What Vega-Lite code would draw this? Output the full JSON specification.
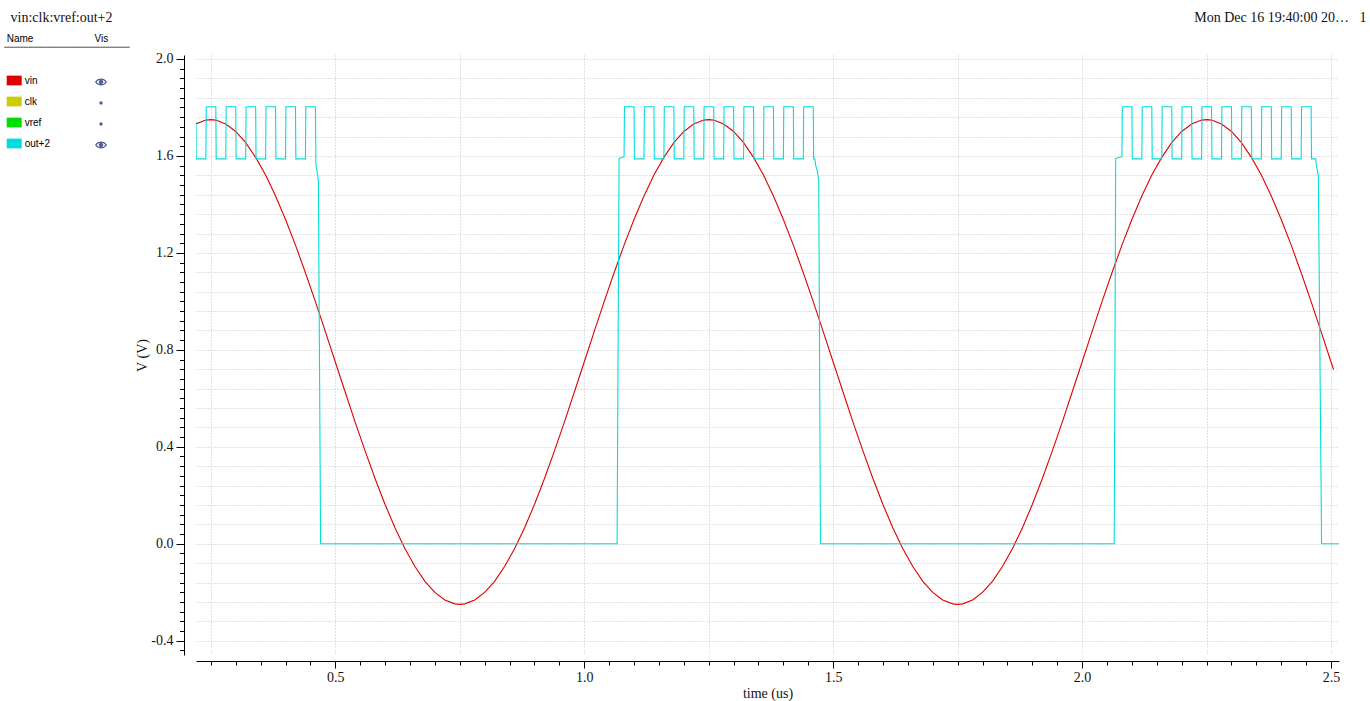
{
"$schema":"https://vega.github.io/schema/vega-lite/v6.json",
"width":1143,"height":600,
"autosize":{"type":"none"},
"padding":{"left":196,"top":55,"right":31,"bottom":46},
"background":"white",
"config":{"view":{"stroke":null},
"legend":{"symbolBaseFillColor":"#4f5f95","symbolBaseStrokeColor":"transparent"},
"axis":{"domainColor":"#000","tickColor":"#000","labelColor":"#111","titleColor":"#111","labelFont":"Liberation Serif","titleFont":"Liberation Serif","labelFontSize":14,"titleFontSize":14,"titleFontWeight":"normal","gridColor":"#c4c4c4","gridDash":[1,2],"gridWidth":1,"labelOverlap":false,"labelBound":false,"labelFlush":false}},
"layer":[
{
"data":{"values":[{"s":"vin","e":"e1","t":0.1,"v":1},{"s":"clk","e":"d1","t":0.1,"v":1},{"s":"vref","e":"d2","t":0.1,"v":1},{"s":"out+2","e":"e2","t":0.1,"v":1}]},
"mark":{"type":"point","filled":true,"clip":true,"opacity":1},
"encoding":{
"x":{"field":"t","type":"quantitative","scale":{"domain":[0.2202,2.516],"nice":false,"zero":false},
"axis":{"orient":"top","domain":false,"ticks":false,"labels":false,"grid":false,"title":"Mon Dec 16 19:40:00 20…\u00a0\u00a0\u00a01","titleX":1170,"titleY":-34,"titleAlign":"right","titleAnchor":"end","titleBaseline":"alphabetic","titleFontSize":14,"titleColor":"#111"}},
"y":{"field":"v","type":"quantitative","scale":{"domain":[-0.459,2.0165],"nice":false,"zero":false},
"axis":{"orient":"left","domain":false,"ticks":false,"labels":false,"grid":false,"title":"vin:clk:vref:out+2","titleAngle":0,"titleX":-186,"titleY":-34,"titleAlign":"left","titleAnchor":"start","titleBaseline":"alphabetic","titleFontSize":14,"titleColor":"#111"}},
"color":{"field":"s","type":"nominal","scale":{"domain":["vin","clk","vref","out+2"],"range":["#e00000","#cccc00","#00dd00","#00dddd"]},
"legend":{"title":"Name\u00a0\u00a0\u00a0\u00a0\u00a0\u00a0\u00a0\u00a0\u00a0\u00a0\u00a0\u00a0\u00a0\u00a0\u00a0\u00a0\u00a0\u00a0\u00a0\u00a0\u00a0\u00a0Vis","orient":"none","legendX":-189.3,"legendY":-21.5,"symbolType":"M-1,-0.65H1V0.65H-1Z","symbolSize":225,"symbolStrokeWidth":0,"symbolOpacity":1,"labelFont":"Liberation Sans","labelFontSize":10,"labelColor":"#000","titleFont":"Liberation Sans","titleFontSize":10,"titleFontWeight":"normal","titleColor":"#000","titlePadding":29.5,"rowPadding":8,"labelOffset":3,"padding":0,"offset":0}},
"shape":{"field":"e","type":"nominal","scale":{"domain":["e1","d1","d2","e2"],"range":["M-0.8,0C-0.45,-0.62 0.45,-0.62 0.8,0C0.45,0.62 -0.45,0.62 -0.8,0Z M-0.58,0C-0.3,0.4 0.3,0.4 0.58,0C0.3,-0.4 -0.3,-0.4 -0.58,0Z M-0.3,0A0.3,0.3 0 1,0 0.3,0A0.3,0.3 0 1,0 -0.3,0Z","M-0.22,0A0.22,0.22 0 1,0 0.22,0A0.22,0.22 0 1,0 -0.22,0Z","M-0.22,0A0.22,0.22 0 1,0 0.22,0A0.22,0.22 0 1,0 -0.22,0Z","M-0.8,0C-0.45,-0.62 0.45,-0.62 0.8,0C0.45,0.62 -0.45,0.62 -0.8,0Z M-0.58,0C-0.3,0.4 0.3,0.4 0.58,0C0.3,-0.4 -0.3,-0.4 -0.58,0Z M-0.3,0A0.3,0.3 0 1,0 0.3,0A0.3,0.3 0 1,0 -0.3,0Z"]},
"legend":{"title":"━━━━━━━━━━━━━━━━━━━━━━━━━━","orient":"none","legendX":-191.7,"legendY":-11,"symbolSize":225,"symbolOffset":89.2,"symbolStrokeWidth":0,"symbolOpacity":1,"symbolFillColor":"#4f5f95","labelExpr":"''","titleFont":"DejaVu Sans Mono","titleFontSize":8,"titleFontWeight":"normal","titleColor":"#808080","titlePadding":22.5,"rowPadding":8,"padding":0,"offset":0}}
}
},
{
"data":{"values":[
{"s":"vin","t":0.22,"v":1.732},{"s":"vin","t":0.24,"v":1.748},{"s":"vin","t":0.25,"v":1.75},{"s":"vin","t":0.26,"v":1.748},{"s":"vin","t":0.28,"v":1.732},{"s":"vin","t":0.30,"v":1.701},{"s":"vin","t":0.32,"v":1.655},{"s":"vin","t":0.34,"v":1.594},{"s":"vin","t":0.36,"v":1.521},{"s":"vin","t":0.38,"v":1.435},{"s":"vin","t":0.40,"v":1.338},{"s":"vin","t":0.42,"v":1.232},{"s":"vin","t":0.44,"v":1.118},{"s":"vin","t":0.46,"v":0.999},{"s":"vin","t":0.48,"v":0.875},{"s":"vin","t":0.50,"v":0.750},{"s":"vin","t":0.52,"v":0.625},{"s":"vin","t":0.54,"v":0.501},{"s":"vin","t":0.56,"v":0.382},{"s":"vin","t":0.58,"v":0.268},{"s":"vin","t":0.60,"v":0.162},{"s":"vin","t":0.62,"v":0.065},{"s":"vin","t":0.64,"v":-0.021},{"s":"vin","t":0.66,"v":-0.094},{"s":"vin","t":0.68,"v":-0.155},{"s":"vin","t":0.70,"v":-0.201},{"s":"vin","t":0.72,"v":-0.232},{"s":"vin","t":0.74,"v":-0.248},{"s":"vin","t":0.75,"v":-0.25},{"s":"vin","t":0.76,"v":-0.248},{"s":"vin","t":0.78,"v":-0.232},{"s":"vin","t":0.80,"v":-0.201},{"s":"vin","t":0.82,"v":-0.155},{"s":"vin","t":0.84,"v":-0.094},{"s":"vin","t":0.86,"v":-0.021},{"s":"vin","t":0.88,"v":0.065},{"s":"vin","t":0.90,"v":0.162},{"s":"vin","t":0.92,"v":0.268},{"s":"vin","t":0.94,"v":0.382},{"s":"vin","t":0.96,"v":0.501},{"s":"vin","t":0.98,"v":0.625},
{"s":"vin","t":1.00,"v":0.750},{"s":"vin","t":1.02,"v":0.875},{"s":"vin","t":1.04,"v":0.999},{"s":"vin","t":1.06,"v":1.118},{"s":"vin","t":1.08,"v":1.232},{"s":"vin","t":1.10,"v":1.338},{"s":"vin","t":1.12,"v":1.435},{"s":"vin","t":1.14,"v":1.521},{"s":"vin","t":1.16,"v":1.594},{"s":"vin","t":1.18,"v":1.655},{"s":"vin","t":1.20,"v":1.701},{"s":"vin","t":1.22,"v":1.732},{"s":"vin","t":1.24,"v":1.748},{"s":"vin","t":1.25,"v":1.75},{"s":"vin","t":1.26,"v":1.748},{"s":"vin","t":1.28,"v":1.732},{"s":"vin","t":1.30,"v":1.701},{"s":"vin","t":1.32,"v":1.655},{"s":"vin","t":1.34,"v":1.594},{"s":"vin","t":1.36,"v":1.521},{"s":"vin","t":1.38,"v":1.435},{"s":"vin","t":1.40,"v":1.338},{"s":"vin","t":1.42,"v":1.232},{"s":"vin","t":1.44,"v":1.118},{"s":"vin","t":1.46,"v":0.999},{"s":"vin","t":1.48,"v":0.875},{"s":"vin","t":1.50,"v":0.750},{"s":"vin","t":1.52,"v":0.625},{"s":"vin","t":1.54,"v":0.501},{"s":"vin","t":1.56,"v":0.382},{"s":"vin","t":1.58,"v":0.268},{"s":"vin","t":1.60,"v":0.162},{"s":"vin","t":1.62,"v":0.065},{"s":"vin","t":1.64,"v":-0.021},{"s":"vin","t":1.66,"v":-0.094},{"s":"vin","t":1.68,"v":-0.155},{"s":"vin","t":1.70,"v":-0.201},{"s":"vin","t":1.72,"v":-0.232},{"s":"vin","t":1.74,"v":-0.248},{"s":"vin","t":1.75,"v":-0.25},{"s":"vin","t":1.76,"v":-0.248},{"s":"vin","t":1.78,"v":-0.232},{"s":"vin","t":1.80,"v":-0.201},{"s":"vin","t":1.82,"v":-0.155},{"s":"vin","t":1.84,"v":-0.094},{"s":"vin","t":1.86,"v":-0.021},{"s":"vin","t":1.88,"v":0.065},{"s":"vin","t":1.90,"v":0.162},{"s":"vin","t":1.92,"v":0.268},{"s":"vin","t":1.94,"v":0.382},{"s":"vin","t":1.96,"v":0.501},{"s":"vin","t":1.98,"v":0.625},
{"s":"vin","t":2.00,"v":0.750},{"s":"vin","t":2.02,"v":0.875},{"s":"vin","t":2.04,"v":0.999},{"s":"vin","t":2.06,"v":1.118},{"s":"vin","t":2.08,"v":1.232},{"s":"vin","t":2.10,"v":1.338},{"s":"vin","t":2.12,"v":1.435},{"s":"vin","t":2.14,"v":1.521},{"s":"vin","t":2.16,"v":1.594},{"s":"vin","t":2.18,"v":1.655},{"s":"vin","t":2.20,"v":1.701},{"s":"vin","t":2.22,"v":1.732},{"s":"vin","t":2.24,"v":1.748},{"s":"vin","t":2.25,"v":1.75},{"s":"vin","t":2.26,"v":1.748},{"s":"vin","t":2.28,"v":1.732},{"s":"vin","t":2.30,"v":1.701},{"s":"vin","t":2.32,"v":1.655},{"s":"vin","t":2.34,"v":1.594},{"s":"vin","t":2.36,"v":1.521},{"s":"vin","t":2.38,"v":1.435},{"s":"vin","t":2.40,"v":1.338},{"s":"vin","t":2.42,"v":1.232},{"s":"vin","t":2.44,"v":1.118},{"s":"vin","t":2.46,"v":0.999},{"s":"vin","t":2.48,"v":0.875},{"s":"vin","t":2.50,"v":0.750},{"s":"vin","t":2.505,"v":0.719},
{"s":"out+2","t":0.2202,"v":1.74},{"s":"out+2","t":0.2206,"v":1.588},
{"s":"out+2","t":0.24,"v":1.588},{"s":"out+2","t":0.2408,"v":1.803},{"s":"out+2","t":0.26,"v":1.803},{"s":"out+2","t":0.2608,"v":1.588},
{"s":"out+2","t":0.28,"v":1.588},{"s":"out+2","t":0.2808,"v":1.803},{"s":"out+2","t":0.30,"v":1.803},{"s":"out+2","t":0.3008,"v":1.588},
{"s":"out+2","t":0.32,"v":1.588},{"s":"out+2","t":0.3208,"v":1.803},{"s":"out+2","t":0.34,"v":1.803},{"s":"out+2","t":0.3408,"v":1.588},
{"s":"out+2","t":0.36,"v":1.588},{"s":"out+2","t":0.3608,"v":1.803},{"s":"out+2","t":0.38,"v":1.803},{"s":"out+2","t":0.3808,"v":1.588},
{"s":"out+2","t":0.40,"v":1.588},{"s":"out+2","t":0.4008,"v":1.803},{"s":"out+2","t":0.42,"v":1.803},{"s":"out+2","t":0.4208,"v":1.588},
{"s":"out+2","t":0.44,"v":1.588},{"s":"out+2","t":0.4408,"v":1.803},{"s":"out+2","t":0.46,"v":1.803},
{"s":"out+2","t":0.4612,"v":1.56},{"s":"out+2","t":0.464,"v":1.53},{"s":"out+2","t":0.466,"v":1.5},{"s":"out+2","t":0.4705,"v":0},
{"s":"out+2","t":1.066,"v":0},{"s":"out+2","t":1.07,"v":1.59},{"s":"out+2","t":1.08,"v":1.597},
{"s":"out+2","t":1.0808,"v":1.803},{"s":"out+2","t":1.10,"v":1.803},{"s":"out+2","t":1.1008,"v":1.588},
{"s":"out+2","t":1.12,"v":1.588},{"s":"out+2","t":1.1208,"v":1.803},{"s":"out+2","t":1.14,"v":1.803},{"s":"out+2","t":1.1408,"v":1.588},
{"s":"out+2","t":1.16,"v":1.588},{"s":"out+2","t":1.1608,"v":1.803},{"s":"out+2","t":1.18,"v":1.803},{"s":"out+2","t":1.1808,"v":1.588},
{"s":"out+2","t":1.20,"v":1.588},{"s":"out+2","t":1.2008,"v":1.803},{"s":"out+2","t":1.22,"v":1.803},{"s":"out+2","t":1.2208,"v":1.588},
{"s":"out+2","t":1.24,"v":1.588},{"s":"out+2","t":1.2408,"v":1.803},{"s":"out+2","t":1.26,"v":1.803},{"s":"out+2","t":1.2608,"v":1.588},
{"s":"out+2","t":1.28,"v":1.588},{"s":"out+2","t":1.2808,"v":1.803},{"s":"out+2","t":1.30,"v":1.803},{"s":"out+2","t":1.3008,"v":1.588},
{"s":"out+2","t":1.32,"v":1.588},{"s":"out+2","t":1.3208,"v":1.803},{"s":"out+2","t":1.34,"v":1.803},{"s":"out+2","t":1.3408,"v":1.588},
{"s":"out+2","t":1.36,"v":1.588},{"s":"out+2","t":1.3608,"v":1.803},{"s":"out+2","t":1.38,"v":1.803},{"s":"out+2","t":1.3808,"v":1.588},
{"s":"out+2","t":1.40,"v":1.588},{"s":"out+2","t":1.4008,"v":1.803},{"s":"out+2","t":1.42,"v":1.803},{"s":"out+2","t":1.4208,"v":1.588},
{"s":"out+2","t":1.44,"v":1.588},{"s":"out+2","t":1.4408,"v":1.803},{"s":"out+2","t":1.46,"v":1.803},{"s":"out+2","t":1.4608,"v":1.588},
{"s":"out+2","t":1.463,"v":1.588},{"s":"out+2","t":1.465,"v":1.56},{"s":"out+2","t":1.468,"v":1.54},{"s":"out+2","t":1.471,"v":1.5},{"s":"out+2","t":1.4745,"v":0},
{"s":"out+2","t":2.0645,"v":0},{"s":"out+2","t":2.0675,"v":1.59},{"s":"out+2","t":2.08,"v":1.597},
{"s":"out+2","t":2.0808,"v":1.803},{"s":"out+2","t":2.10,"v":1.803},{"s":"out+2","t":2.1008,"v":1.588},
{"s":"out+2","t":2.12,"v":1.588},{"s":"out+2","t":2.1208,"v":1.803},{"s":"out+2","t":2.14,"v":1.803},{"s":"out+2","t":2.1408,"v":1.588},
{"s":"out+2","t":2.16,"v":1.588},{"s":"out+2","t":2.1608,"v":1.803},{"s":"out+2","t":2.18,"v":1.803},{"s":"out+2","t":2.1808,"v":1.588},
{"s":"out+2","t":2.20,"v":1.588},{"s":"out+2","t":2.2008,"v":1.803},{"s":"out+2","t":2.22,"v":1.803},{"s":"out+2","t":2.2208,"v":1.588},
{"s":"out+2","t":2.24,"v":1.588},{"s":"out+2","t":2.2408,"v":1.803},{"s":"out+2","t":2.26,"v":1.803},{"s":"out+2","t":2.2608,"v":1.588},
{"s":"out+2","t":2.28,"v":1.588},{"s":"out+2","t":2.2808,"v":1.803},{"s":"out+2","t":2.30,"v":1.803},{"s":"out+2","t":2.3008,"v":1.588},
{"s":"out+2","t":2.32,"v":1.588},{"s":"out+2","t":2.3208,"v":1.803},{"s":"out+2","t":2.34,"v":1.803},{"s":"out+2","t":2.3408,"v":1.588},
{"s":"out+2","t":2.36,"v":1.588},{"s":"out+2","t":2.3608,"v":1.803},{"s":"out+2","t":2.38,"v":1.803},{"s":"out+2","t":2.3808,"v":1.588},
{"s":"out+2","t":2.40,"v":1.588},{"s":"out+2","t":2.4008,"v":1.803},{"s":"out+2","t":2.42,"v":1.803},{"s":"out+2","t":2.4208,"v":1.588},
{"s":"out+2","t":2.44,"v":1.588},{"s":"out+2","t":2.4408,"v":1.803},{"s":"out+2","t":2.46,"v":1.803},{"s":"out+2","t":2.4608,"v":1.588},
{"s":"out+2","t":2.469,"v":1.588},{"s":"out+2","t":2.471,"v":1.555},{"s":"out+2","t":2.4745,"v":1.52},{"s":"out+2","t":2.481,"v":0},{"s":"out+2","t":2.516,"v":0}
]},
"mark":{"type":"line","strokeWidth":1.1,"clip":true},
"encoding":{
"x":{"field":"t","type":"quantitative","scale":{"domain":[0.2202,2.516],"nice":false,"zero":false},
"axis":{"orient":"bottom","offset":6,"values":[0.25,0.3,0.35,0.4,0.45,0.5,0.55,0.6,0.65,0.7,0.75,0.8,0.85,0.9,0.95,1,1.05,1.1,1.15,1.2,1.25,1.3,1.35,1.4,1.45,1.5,1.55,1.6,1.65,1.7,1.75,1.8,1.85,1.9,1.95,2,2.05,2.1,2.15,2.2,2.25,2.3,2.35,2.4,2.45,2.5],
"labelExpr":"abs(datum.value*2-round(datum.value*2))<0.01 ? format(datum.value,'.1f') : ''",
"tickSize":{"condition":{"test":"abs(datum.value*2-round(datum.value*2))<0.01","value":7},"value":4},
"grid":true,"gridOpacity":{"condition":{"test":"abs(datum.value*4-round(datum.value*4))<0.01","value":1},"value":0},
"title":"time (us)","labelPadding":2,"titlePadding":2}},
"y":{"field":"v","type":"quantitative","scale":{"domain":[-0.459,2.0165],"nice":false,"zero":false},
"axis":{"orient":"left","offset":12,"values":[-0.44,-0.4,-0.36,-0.32,-0.28,-0.24,-0.2,-0.16,-0.12,-0.08,-0.04,0,0.04,0.08,0.12,0.16,0.2,0.24,0.28,0.32,0.36,0.4,0.44,0.48,0.52,0.56,0.6,0.64,0.68,0.72,0.76,0.8,0.84,0.88,0.92,0.96,1,1.04,1.08,1.12,1.16,1.2,1.24,1.28,1.32,1.36,1.4,1.44,1.48,1.52,1.56,1.6,1.64,1.68,1.72,1.76,1.8,1.84,1.88,1.92,1.96,2],
"labelExpr":"abs(datum.value*2.5-round(datum.value*2.5))<0.01 ? (datum.value < -0.001 ? '-' + format(-datum.value,'.1f') : format(abs(datum.value),'.1f')) : ''",
"tickSize":{"condition":{"test":"abs(datum.value*2.5-round(datum.value*2.5))<0.01","value":8},"value":4.5},
"grid":true,"gridOpacity":{"condition":{"test":"abs(datum.value*12.5-round(datum.value*12.5))<0.01","value":1},"value":0},
"title":"V (V)","labelPadding":3,"titlePadding":1}},
"color":{"field":"s","type":"nominal","scale":{"domain":["vin","clk","vref","out+2"],"range":["#e00000","#cccc00","#00dd00","#00dddd"]}}
}
}
],
"resolve":{"axis":{"x":"independent","y":"independent"}}
}
